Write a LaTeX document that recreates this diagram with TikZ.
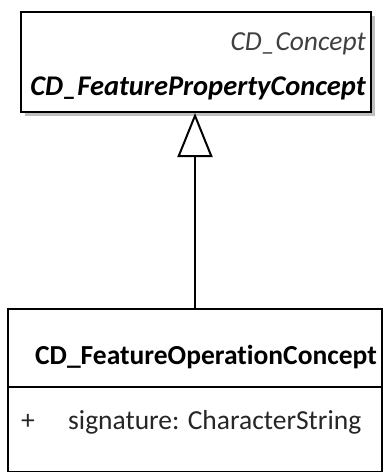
\documentclass[tikz,border=0pt]{standalone}
\usepackage{fontspec}
\setmainfont{Carlito}[Ligatures={NoCommon}]
\usepackage{tikz}
\usetikzlibrary{arrows.meta,positioning,shadows}

\begin{document}
\begin{tikzpicture}[x=1pt,y=-1pt,>=latex,
    classbox/.style={draw,line width=2pt,fill=white,inner sep=0pt},
    boxshadow/.style={drop shadow={shadow xshift=4pt,shadow yshift=-4pt,fill=black!25,opacity=1}},
    classname/.style={font=\fontsize{27.5}{30}\selectfont\bfseries,inner sep=0pt},
    attrtext/.style={font=\fontsize{27.5}{30}\selectfont,text=black!85,inner sep=0pt}
]
\useasboundingbox (0,0) rectangle (386,472);
% superclass
\node[classbox,boxshadow,minimum width=350pt,minimum height=100pt] (prop) at (196,62) {};
\node[font=\fontsize{27.5}{30}\selectfont\itshape,text=black!75,inner sep=0pt,anchor=base east]
    (stereo) at (366,50) {CD\_Concept};
\node[classname,font=\fontsize{28.5}{30}\selectfont\bfseries\itshape,anchor=base east]
    (propname) at (366,95) {CD\_FeaturePropertyConcept};
% subclass
\node[classbox,minimum width=374pt,minimum height=163pt] (oper) at (195,390) {};
\draw[line width=2pt] (oper.west |- 0,387) coordinate (sepl) -- (oper.east |- 0,387) coordinate (sepr);
\node[classname,anchor=base] (opername) at (206,364) {CD\_FeatureOperationConcept};
\node[attrtext,anchor=base west] (vis) at (21,429) {+};
\node[attrtext,anchor=base west] (attr) at (68,429) {signature: CharacterString};
% generalisation
\draw[line width=2pt,-{Triangle[open,length=44pt,width=35pt,line width=2pt]}]
    (oper.north) -- (oper.north |- prop.south);
\end{tikzpicture}
\end{document}
